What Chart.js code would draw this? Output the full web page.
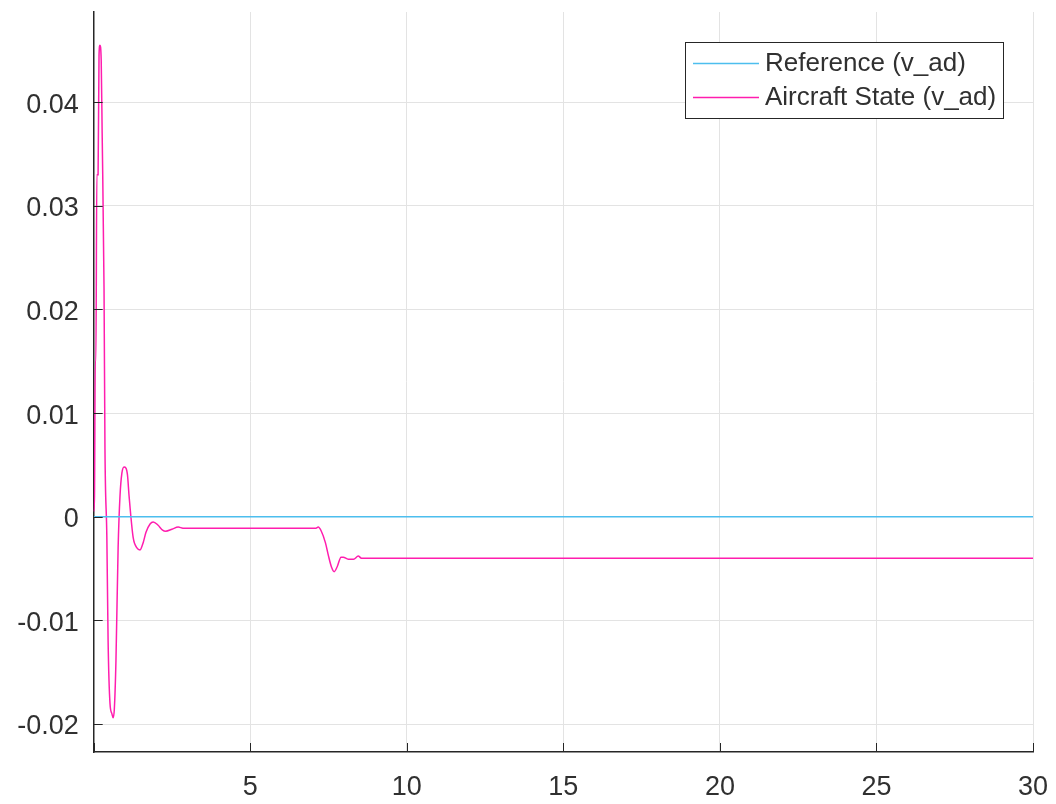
<!DOCTYPE html>
<html>
<head>
<meta charset="utf-8">
<script src="https://cdn.jsdelivr.net/npm/chart.js@4.4.1/dist/chart.umd.min.js"></script>
<style>
  html, body { margin: 0; padding: 0; background: #fff; }
  #wrap { width: 1056px; height: 804px; }
</style>
</head>
<body>
<div id="wrap"><canvas id="vadChart" width="1056" height="804"></canvas></div>
<script>
// time (s) and aircraft state values
const timeVals = [0, 0.025, 0.05, 0.07, 0.1, 0.14, 0.17, 0.2, 0.24, 0.27, 0.33, 0.36, 0.42, 0.46, 0.52, 0.58, 0.62, 0.66, 0.71, 0.78, 0.84, 0.9, 0.97, 1.03, 1.08, 1.13, 1.26, 1.38, 1.48, 1.58, 1.67, 1.8, 1.9, 2.05, 2.2, 2.3, 2.5, 2.7, 2.85, 3.2,
  7.0, 7.1, 7.17, 7.27, 7.4, 7.5, 7.6, 7.68, 7.78, 7.9, 7.97, 8.13, 8.3, 8.45, 8.55, 30];
const stateVals = [0.0005, 0.002, 0.015, 0.015, 0.033, 0.033, 0.0445, 0.0455, 0.044, 0.037, 0.022, 0.0065, -0.002, -0.012, -0.018, -0.019, -0.0194, -0.0185, -0.014, -0.003, 0.002, 0.0042, 0.0048, 0.0047, 0.004, 0.002, -0.002, -0.003, -0.0032, -0.0025, -0.0015, -0.0007, -0.0005, -0.0008, -0.0013, -0.0014, -0.0012, -0.001, -0.0011, -0.0011,
  -0.0011, -0.0011, -0.001, -0.0014, -0.0025, -0.0038, -0.0049, -0.0053, -0.0048, -0.0039, -0.0039, -0.0041, -0.0041, -0.0038, -0.004, -0.004];
const refTime = [0, 30];
const refVals = [0, 0];
const xTicks = [0, 5, 10, 15, 20, 25, 30];
const yTicks = [-0.02, -0.01, 0, 0.01, 0.02, 0.03, 0.04];
const seriesNames = ['Reference (v_ad)', 'Aircraft State (v_ad)'];
const seriesColors = ['#4DBEEE', '#FF1DAE'];

const axisColor = '#262626';
const textColor = '#303030';
const gridColor = '#E3E3E3';
const fontFam = '"Liberation Sans", Arial, Helvetica, sans-serif';

// MATLAB-style inward ticks and boxed legend
const matlabBits = {
  id: 'matlabBits',
  afterDraw(chart) {
    const { ctx, chartArea: a, scales } = chart;
    ctx.save();
    ctx.strokeStyle = axisColor;
    ctx.lineWidth = 1;
    ctx.beginPath();
    xTicks.forEach(v => {
      const px = Math.round(scales.x.getPixelForValue(v)) + 0.5;
      ctx.moveTo(px, a.bottom);
      ctx.lineTo(px, a.bottom - 9);
    });
    yTicks.forEach(v => {
      const py = Math.round(scales.y.getPixelForValue(v)) + 0.5;
      ctx.moveTo(a.left, py);
      ctx.lineTo(a.left + 9, py);
    });
    ctx.stroke();

    // legend box
    const bx = 685.5, by = 42.5, bw = 318, bh = 76;
    ctx.fillStyle = '#fff';
    ctx.fillRect(bx, by, bw, bh);
    ctx.strokeStyle = axisColor;
    ctx.strokeRect(bx, by, bw, bh);
    ctx.font = '26px ' + fontFam;
    ctx.textBaseline = 'middle';
    ctx.textAlign = 'left';
    const rows = [63, 97];
    seriesNames.forEach((name, i) => {
      ctx.strokeStyle = seriesColors[i];
      ctx.lineWidth = 1.5;
      ctx.beginPath();
      ctx.moveTo(693, rows[i] + 0.5);
      ctx.lineTo(759, rows[i] + 0.5);
      ctx.stroke();
      ctx.fillStyle = textColor;
      ctx.fillText(name, 765, rows[i] + 1);
    });
    ctx.restore();
  }
};

const refData = refTime.map((t, i) => ({ x: t, y: refVals[i] }));
const stateData = timeVals.map((t, i) => ({ x: t, y: stateVals[i] }));

new Chart(document.getElementById('vadChart'), {
  type: 'line',
  data: {
    datasets: [
      { label: seriesNames[0], data: refData, borderColor: seriesColors[0], borderWidth: 1.5, pointRadius: 0, tension: 0 },
      { label: seriesNames[1], data: stateData, borderColor: seriesColors[1], borderWidth: 1.5, pointRadius: 0, cubicInterpolationMode: 'monotone' }
    ]
  },
  options: {
    responsive: false,
    animation: false,
    layout: { padding: { top: 12, right: 23, left: 0, bottom: 0 } },
    plugins: { legend: { display: false }, tooltip: { enabled: false } },
    scales: {
      x: {
        type: 'linear',
        min: 0,
        max: 30,
        afterBuildTicks: s => { s.ticks = xTicks.map(v => ({ value: v })); },
        afterFit: s => { s.height = 52; s.paddingLeft = 0; s.paddingRight = 0; },
        grid: { color: gridColor, drawTicks: false },
        border: { display: true, color: axisColor, width: 1.5 },
        ticks: {
          padding: 19,
          color: textColor,
          font: { family: fontFam, size: 27 },
          maxRotation: 0,
          callback: v => (v === 0 ? '' : String(v))
        }
      },
      y: {
        type: 'linear',
        min: -0.0227,
        max: 0.0487,
        afterBuildTicks: s => { s.ticks = yTicks.map(v => ({ value: v })); },
        afterFit: s => { s.width = 93.7; s.paddingTop = 0; s.paddingBottom = 0; },
        grid: { color: gridColor, drawTicks: false },
        border: { display: true, color: axisColor, width: 1.5 },
        ticks: {
          padding: 15,
          labelOffset: 3,
          color: textColor,
          font: { family: fontFam, size: 27 },
          callback: v => String(Math.round(v * 100) / 100)
        }
      }
    }
  },
  plugins: [matlabBits]
});
</script>
</body>
</html>
